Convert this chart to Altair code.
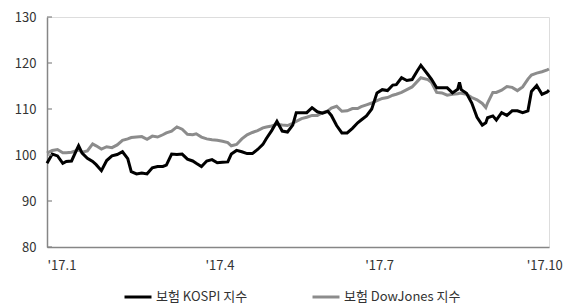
import altair as alt
import pandas as pd

# day offsets from 2017-01-01
days = [0, 3, 6, 9, 11, 14, 17, 18, 20, 23, 26, 28, 31, 34, 37, 40, 43, 46, 48, 51,
        54, 57, 60, 63, 66, 68, 71, 74, 77, 80, 83, 85, 88, 91, 94, 97, 100, 103, 105, 108,
        111, 114, 117, 120, 123, 125, 128, 131, 134, 137, 140, 142, 145, 148, 151, 154, 157, 160, 162, 165,
        168, 171, 174, 177, 179, 182, 185, 188, 191, 194, 197, 199, 202, 205, 208, 211, 213, 214, 217, 219,
        222, 225, 228, 231, 234, 235, 236, 239, 242, 245, 248, 250, 251, 254, 256, 259, 262, 265, 268, 271,
        274, 276, 279, 282, 285, 286]

kospi = [98.2, 100.2, 99.8, 98.2, 98.6, 98.7, 101.2, 102.0, 100.4, 99.3, 98.6, 97.9, 96.6, 98.8, 99.8, 100.1, 100.7, 99.2, 96.4, 95.9,
         96.1, 95.9, 97.2, 97.5, 97.5, 97.8, 100.2, 100.1, 100.2, 99.1, 98.7, 98.2, 97.5, 98.7, 99.0, 98.3, 98.4, 98.5, 100.2, 101.0,
         100.7, 100.3, 100.3, 101.2, 102.3, 103.6, 105.3, 107.3, 105.2, 105.0, 106.5, 109.2, 109.2, 109.2, 110.3, 109.4, 109.1, 109.5, 108.6, 106.4,
         104.8, 104.8, 105.8, 107.0, 107.6, 108.5, 110.0, 113.5, 114.2, 114.0, 115.2, 115.3, 116.8, 116.2, 116.4, 118.3, 119.5, 119.0, 117.5, 116.5,
         114.6, 114.6, 114.6, 113.5, 114.3, 115.8, 114.2, 113.4, 111.3, 108.2, 106.5, 107.0, 108.1, 108.5, 107.6, 109.2, 108.6, 109.6, 109.6, 109.2,
         109.6, 113.8, 115.1, 113.2, 113.7, 114.1]

dowjones = [100.4, 101.0, 101.2, 100.5, 100.5, 100.6, 101.0, 101.1, 100.6, 100.9, 102.4, 102.0, 101.3, 101.8, 101.6, 102.2, 103.2, 103.5, 103.8, 103.9,
            104.0, 103.4, 104.1, 103.9, 104.4, 104.8, 105.2, 106.1, 105.6, 104.5, 104.4, 104.6, 103.9, 103.5, 103.3, 103.2, 103.0, 102.7, 102.0, 102.3,
            103.5, 104.4, 104.9, 105.3, 105.9, 106.1, 106.3, 106.7, 106.5, 106.4, 106.9, 107.3, 107.9, 108.2, 108.6, 108.6, 109.2, 109.6, 110.2, 110.6,
            109.5, 109.6, 110.1, 110.1, 110.5, 110.9, 111.3, 111.8, 112.3, 112.5, 113.0, 113.2, 113.6, 114.2, 114.8, 116.0, 116.8, 116.7, 116.4, 115.8,
            113.6, 113.5, 113.0, 113.2, 113.3, 113.4, 113.4, 113.2, 112.5, 112.0, 111.2, 110.3, 111.3, 113.6, 113.6, 114.1, 114.9, 114.7, 114.0, 114.8,
            116.5, 117.4, 117.8, 118.1, 118.5, 118.7]

series_names = ["보험 KOSPI 지수", "보험 DowJones 지수"]
series_colors = ["#000000", "#8c8c8c"]
tick_days = [0, 90, 181, 273]
tick_labels = ["'17.1", "'17.4", "'17.7", "'17.10"]
y_ticks = [80, 90, 100, 110, 120, 130]

n = len(days)
df = pd.DataFrame({
    "day": days * 2,
    "value": kospi + dowjones,
    "series": [series_names[0]] * n + [series_names[1]] * n,
})

label_expr = " : ".join(f'datum.value == {d} ? "{l}"' for d, l in zip(tick_days, tick_labels)) + ' : ""'

axis_color = "#868686"
text_color = "#333333"
font = "Noto Sans CJK KR"

x_enc = alt.X("day:Q",
              scale=alt.Scale(domain=[0, 286], nice=False, zero=False),
              axis=alt.Axis(values=tick_days, labelExpr=label_expr, labelAlign="left",
                            labelFlush=False, ticks=False, grid=False, title=None,
                            labelPadding=12, domainColor=axis_color, domainWidth=1.5,
                            labelColor=text_color, labelFontSize=13, labelFont=font))
y_enc = alt.Y("value:Q",
              scale=alt.Scale(domain=[80, 130], nice=False, zero=False),
              axis=alt.Axis(values=y_ticks, ticks=False, grid=False, title=None,
                            labelPadding=11, domainColor=axis_color, domainWidth=1.5,
                            labelColor=text_color, labelFontSize=13, labelFont=font))
color_enc = alt.Color("series:N",
                      scale=alt.Scale(domain=series_names, range=series_colors),
                      legend=alt.Legend(title=None, orient="none", legendX=76, legendY=265,
                                        direction="horizontal", symbolType="stroke",
                                        symbolSize=729, symbolStrokeWidth=3, labelOffset=3,
                                        columnPadding=58, labelFontSize=13, labelFont=font,
                                        labelColor=text_color))

base = alt.Chart(df).encode(x=x_enc, y=y_enc, color=color_enc)

gray_line = base.transform_filter(alt.datum.series == series_names[1]).mark_line(strokeWidth=3)
black_line = base.transform_filter(alt.datum.series == series_names[0]).mark_line(strokeWidth=3)

ticks = alt.Chart(pd.DataFrame({"v": y_ticks})).mark_rule(color=axis_color, strokeWidth=1.2).encode(
    y=alt.Y("v:Q"), x=alt.value(0), x2=alt.value(5))

chart = alt.layer(gray_line, black_line, ticks).properties(
    width=502, height=230,
    autosize="none",
    padding={"left": 39, "top": 9, "right": 17, "bottom": 58},
).configure_view(stroke=None).configure(background="white")

chart.save("out.html", embed_options={"renderer": "svg", "actions": False})
